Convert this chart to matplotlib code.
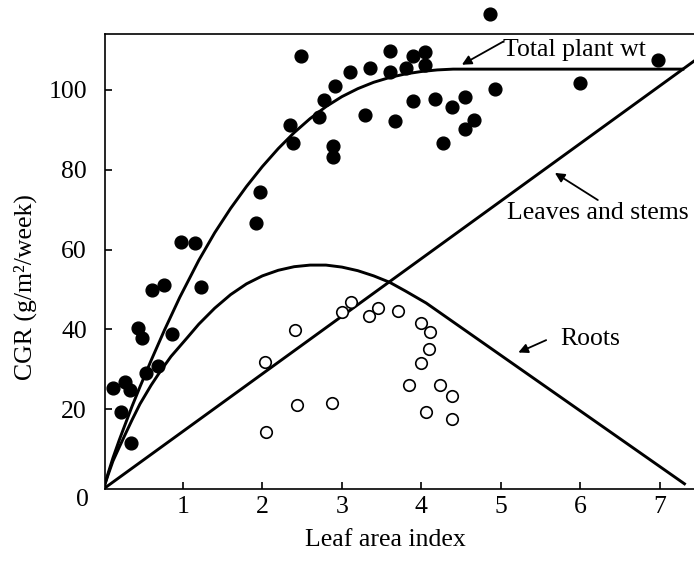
import matplotlib.pyplot as plt
import numpy as np

plt.rcParams['font.family'] = ['Liberation Serif', 'DejaVu Serif']

### Total plant wt - filled dots (leaf area index, CGR)
total_lai = [0.12, 0.27, 0.33, 0.22, 0.35, 0.43, 0.49, 0.54, 0.69, 0.86,
             0.61, 0.76, 1.23, 0.98, 1.15, 1.92, 1.97, 2.35, 2.38, 2.48,
             2.71, 2.77, 2.89, 2.89, 2.91, 3.10, 3.35, 3.60, 3.61, 3.81,
             3.90, 4.04, 4.04, 3.29, 3.67, 3.90, 4.17, 4.38, 4.55, 4.66,
             4.55, 4.27, 4.93, 4.86, 6.00, 6.98]
total_cgr = [25.2, 26.9, 24.8, 19.2, 11.5, 40.3, 37.9, 29.0, 30.9, 38.9,
             49.9, 51.1, 50.5, 61.8, 61.6, 66.7, 74.4, 91.1, 86.6, 108.6,
             93.2, 97.5, 86.0, 83.1, 101.0, 104.6, 105.6, 109.8, 104.6, 105.6,
             108.6, 109.6, 106.3, 93.7, 92.1, 97.2, 97.7, 95.6, 98.1, 92.5,
             90.2, 86.6, 100.3, 119.0, 101.7, 107.5]

### Roots - open circles
roots_lai = [2.41, 2.03, 2.05, 2.43, 2.87, 3.00, 3.12, 3.34, 3.45, 3.70,
             3.99, 4.11, 4.09, 3.99, 3.84, 4.23, 4.38, 4.06, 4.38]
roots_cgr = [39.8, 31.9, 14.4, 21.1, 21.6, 44.4, 46.9, 43.4, 45.4, 44.7,
             41.7, 39.4, 35.1, 31.5, 26.1, 26.1, 23.3, 19.4, 17.5]

### Lines
total_line_x = [0, 0.06, 0.12, 0.2, 0.27, 0.36, 0.46, 0.6, 0.77, 0.96, 1.2,
                1.4, 1.6, 1.8, 2.0, 2.2, 2.4, 2.6, 2.8, 3.0, 3.2, 3.4,
                3.6, 3.8, 4.0, 4.2, 4.4, 7.29]
total_line_y = [0, 4.0, 7.8, 12.3, 16.0, 20.7, 25.6, 32.2, 39.9, 48.0, 57.3,
                64.2, 70.3, 75.8, 80.8, 85.3, 89.3, 92.8, 95.8, 98.3, 100.3, 101.9,
                103.1, 104.0, 104.6, 105.0, 105.2, 105.2]

roots_line_x = [0, 0.06, 0.12, 0.2, 0.27, 0.36, 0.46, 0.6, 0.71, 0.85, 1.05,
                1.2, 1.4, 1.6, 1.8, 2.0, 2.2, 2.4, 2.6, 2.8, 3.0, 3.2, 3.4,
                3.6, 3.8, 4.06, 7.31]
roots_line_y = [0, 3.6, 7.0, 10.5, 13.5, 17.3, 21.3, 26.0, 29.3, 33.2, 37.8,
                41.3, 45.3, 48.7, 51.4, 53.4, 54.8, 55.7, 56.1, 56.1, 55.6, 54.7, 53.4,
                51.8, 49.6, 46.6, 1.3]

leaves_line_x = [0, 7.45]
leaves_line_y = [0, 107.5]

xticks = [1, 2, 3, 4, 5, 6, 7]
yticks = [20, 40, 60, 80, 100]

fs = 18.5

fig = plt.figure(figsize=(6.94, 5.67), dpi=100)
ax = fig.add_axes([105 / 694, 78 / 567, 589 / 694, 455 / 567])

### Lines
ax.plot(total_line_x, total_line_y, color='k', lw=2.1, zorder=2, solid_joinstyle='round')
ax.plot(roots_line_x, roots_line_y, color='k', lw=2.1, zorder=2, solid_joinstyle='round')
ax.plot(leaves_line_x, leaves_line_y, color='k', lw=2.1, zorder=2)

### Points
ax.plot(total_lai, total_cgr, 'o', color='k', ms=9.2, clip_on=False, zorder=3)
ax.plot(roots_lai, roots_cgr, 'o', mfc='white', mec='k', ms=8.3, mew=1.2, zorder=3)

ax.set_xlim(0.02, 7.43)
ax.set_ylim(0, 114)

ax.set_xticks(xticks)
ax.set_yticks(yticks)
ax.tick_params(direction='in', length=5, width=1.2, labelsize=fs)
ax.tick_params(axis='x', pad=5)
ax.tick_params(axis='y', pad=13)

ax.spines['right'].set_visible(False)
for s in ['left', 'top', 'bottom']:
    ax.spines[s].set_linewidth(1.2)

### Labels
fig.text(82 / 694, 1 - 500 / 567, '0', fontsize=fs, ha='center', va='center')
fig.text(385 / 694, 1 - 540 / 567, 'Leaf area index', fontsize=fs, ha='center', va='center')
fig.text(25 / 694, 1 - 287 / 567, 'CGR (g/m²/week)', fontsize=fs, ha='center', va='center',
         rotation=90)

### Annotations
arrow = dict(arrowstyle='-|>', color='k', lw=1.3, mutation_scale=14, shrinkA=0, shrinkB=0)

ax.text(5.03, 110.0, 'Total plant wt', fontsize=fs, ha='left', va='center')
ax.annotate('', xy=(4.51, 106.3), xytext=(5.03, 112.1), arrowprops=arrow)

ax.text(6.22, 72.0, 'Leaves and stems', fontsize=fs, ha='center', va='top')
ax.annotate('', xy=(5.68, 79.2), xytext=(6.22, 72.4), arrowprops=arrow)

ax.text(5.75, 37.6, 'Roots', fontsize=fs, ha='left', va='center')
ax.annotate('', xy=(5.22, 34.2), xytext=(5.57, 37.3), arrowprops=arrow)

fig.savefig('out.png', dpi=100)
